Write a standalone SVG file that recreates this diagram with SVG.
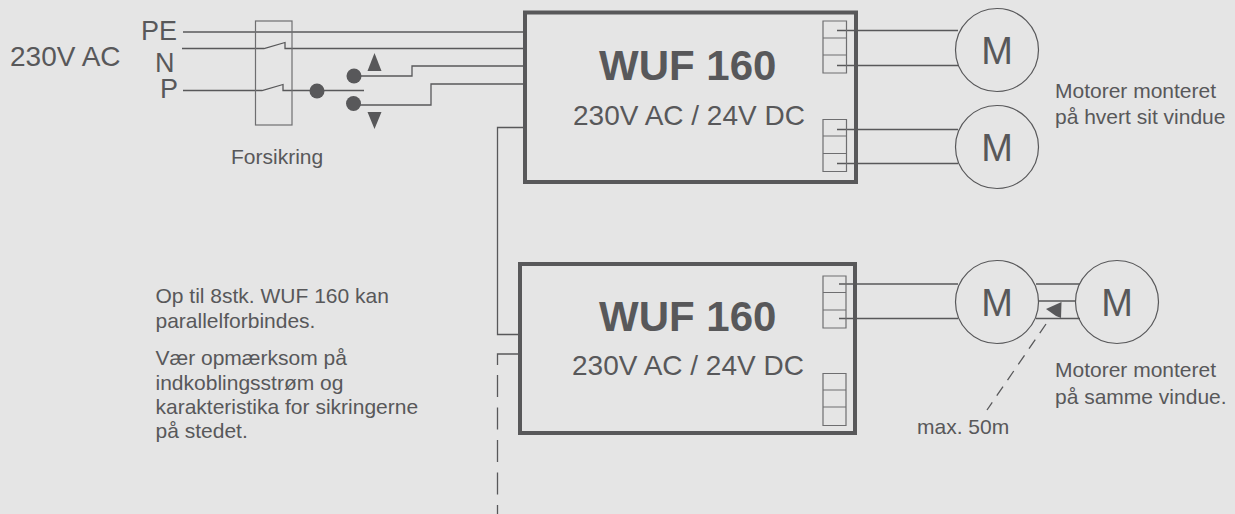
<svg xmlns="http://www.w3.org/2000/svg" width="1235" height="514" viewBox="0 0 1235 514">
<style>
text{font-family:"Liberation Sans",Arial,sans-serif;fill:#58585a}
.w{fill:none;stroke:#58585a;stroke-width:1.3}
.t{fill:none;stroke:#6e6e70;stroke-width:1.2}
.box{fill:none;stroke:#58585a;stroke-width:4}
.m{fill:none;stroke:#58585a;stroke-width:1.2}
.d{fill:#58585a}
.s18{font-size:21px}
.lab{font-size:28px}
.sup{font-size:27px}
.mm{font-size:38px;text-anchor:middle}
.ti{font-size:42px;font-weight:bold}
</style>
<rect width="1235" height="514" fill="#e5e5e5"/>
<g id="connectors">
<path class="w" d="M183 32H525"/>
<path class="w" d="M182 48.500H264L285 42.500V48.500H525"/>
<path class="w" d="M183 90.500H262L283 84.500V90.500H364"/>
<path class="w" d="M354 76H412V66H525"/>
<path class="w" d="M353 105H431V84H525"/>
<path class="w" d="M525 127.500H497.500V334.500H520"/>
<path class="w" d="M520 354H497.500V365"/>
<path class="w" stroke-dasharray="22 10.500" d="M497.500 375V514"/>
<path class="w" d="M837 30.500H958M837 65.500H958M837 129.500H958M837 163.500H958"/>
<path class="w" d="M839 284H958M839 318.500H958M1036 284H1080M1039 301H1076M1036 318.500H1080"/>
<path class="w" stroke-dasharray="11 8" d="M1046 324L987 410"/>
<polygon class="d" points="1046,309 1061.500,302 1061,318 1056,316"/>
</g>
<g id="fuse">
<rect class="t" x="255.500" y="21" width="36.500" height="104"/>
<text class="s18" x="231" y="164">Forsikring</text>
</g>
<g id="switch">
<circle class="d" cx="317" cy="91" r="7.500"/>
<circle class="d" cx="354" cy="76" r="7.500"/>
<circle class="d" cx="353.500" cy="103.500" r="7.500"/>
<polygon class="d" points="374.500,53 367.500,71 381.500,71"/>
<polygon class="d" points="374.500,129 367.500,112 381.500,112"/>
</g>
<g id="supply-labels">
<text class="lab" x="10" y="66">230V AC</text>
<text class="sup" x="141" y="40">PE</text>
<text class="sup" x="155" y="72">N</text>
<text class="sup" x="160" y="98">P</text>
</g>
<g id="unit-1">
<rect class="box" x="525" y="12.500" width="331" height="169.500"/>
<text class="ti" x="599" y="80">WUF 160</text>
<text class="lab" x="573" y="125">230V AC / 24V DC</text>
<path class="t" d="M823 21H846.500V73H823ZM823 38H846.500M823 55H846.500"/>
<path class="t" d="M823 119.500H846.500V171.500H823ZM823 136H846.500M823 153.500H846.500"/>
</g>
<g id="unit-2">
<rect class="box" x="520" y="264" width="335" height="169"/>
<text class="ti" x="599" y="331">WUF 160</text>
<text class="lab" x="572" y="375">230V AC / 24V DC</text>
<path class="t" d="M823 276H846V328H823ZM823 292.500H846M823 310H846"/>
<path class="t" d="M823 373.500H846V425.500H823ZM823 390H846M823 407H846"/>
</g>
<g id="motor-1"><circle class="m" cx="997" cy="50" r="41.500"/><text class="mm" x="997" y="64">M</text></g>
<g id="motor-2"><circle class="m" cx="997" cy="147" r="41.500"/><text class="mm" x="997" y="161">M</text></g>
<g id="motor-3"><circle class="m" cx="997" cy="302" r="41.500"/><text class="mm" x="997" y="316">M</text></g>
<g id="motor-4"><circle class="m" cx="1117" cy="302" r="41.500"/><text class="mm" x="1117" y="316">M</text></g>
<g id="notes">
<text class="s18" x="1055" y="98">Motorer monteret</text>
<text class="s18" x="1055" y="124">på hvert sit vindue</text>
<text class="s18" x="1055" y="377">Motorer monteret</text>
<text class="s18" x="1055" y="404">på samme vindue.</text>
<text class="s18" x="917" y="434">max. 50m</text>
<text class="s18" x="155.500" y="303">Op til 8stk. WUF 160 kan</text>
<text class="s18" x="155.500" y="327.500">parallelforbindes.</text>
<text class="s18" x="155.500" y="365">Vær opmærksom på</text>
<text class="s18" x="155.500" y="390">indkoblingsstrøm og</text>
<text class="s18" x="155.500" y="414">karakteristika for sikringerne</text>
<text class="s18" x="155.500" y="438">på stedet.</text>
</g>
</svg>
